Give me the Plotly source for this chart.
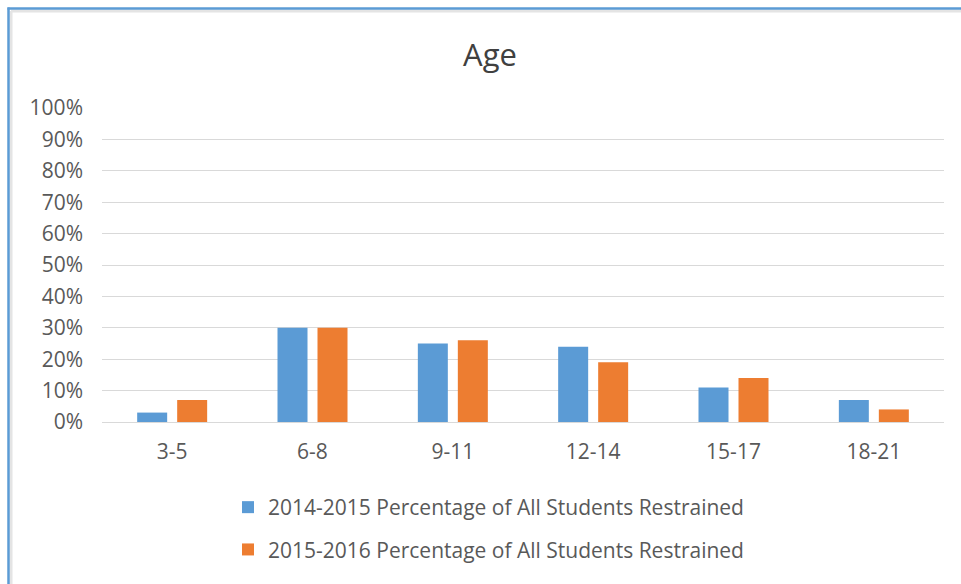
import plotly.graph_objects as go

# Restraint share by age band, two school years
age_groups = ["3-5", "6-8", "9-11", "12-14", "15-17", "18-21"]
pct_2014_2015 = [3, 30, 25, 24, 11, 7]
pct_2015_2016 = [7, 30, 26, 19, 14, 4]
y_ticks = list(range(0, 101, 10))
y_tick_labels = [f"{v}%" for v in y_ticks]

BLUE = "#5B9BD5"
ORANGE = "#ED7D31"
TEXT = "#595959"
GRID = "#D9D9D9"
FONT = "'Open Sans', Lato, sans-serif"
FS = 21

W, H = 961, 584
ML, MR, MT, MB = 102, 17, 108, 162
pw, ph = W - ML - MR, H - MT - MB

fig = go.Figure()
fig.add_trace(go.Bar(
    x=age_groups, y=pct_2014_2015, name="2014-2015 Percentage of All Students Restrained",
    marker=dict(color=BLUE, line=dict(width=0)), legendgroup="a",
))
fig.add_trace(go.Bar(
    x=age_groups, y=pct_2015_2016, name="2015-2016 Percentage of All Students Restrained",
    marker=dict(color=ORANGE, line=dict(width=0)), legendgroup="b",
))

# frame lines (left and top) with a faint inner shadow
def px_x(p):
    return (p - ML) / pw

def px_y(p):
    return (H - MB - p) / ph

shapes = [
    dict(type="line", xref="paper", yref="paper", x0=px_x(11), x1=px_x(11), y0=px_y(H + 2), y1=px_y(11),
         line=dict(color="#E4E4E4", width=3)),
    dict(type="line", xref="paper", yref="paper", x0=px_x(11), x1=px_x(W + 2), y0=px_y(11), y1=px_y(11),
         line=dict(color="#E4E4E4", width=3)),
    dict(type="line", xref="paper", yref="paper", x0=px_x(8.5), x1=px_x(8.5), y0=px_y(H + 2), y1=px_y(7.5),
         line=dict(color=BLUE, width=2.5)),
    dict(type="line", xref="paper", yref="paper", x0=px_x(7.5), x1=px_x(W + 2), y0=px_y(8.5), y1=px_y(8.5),
         line=dict(color=BLUE, width=2.5)),
]

fig.update_layout(
    width=W, height=H,
    margin=dict(l=ML, r=MR, t=MT, b=MB),
    paper_bgcolor="white", plot_bgcolor="white",
    font=dict(family=FONT, color=TEXT, size=FS),
    title=dict(text="Age", x=490 / W, xanchor="center", y=1 - 55 / H, yanchor="middle",
               font=dict(size=31, color="#404040", family=FONT)),
    barmode="group", bargap=0.43, bargroupgap=0.25,
    showlegend=True,
    legend=dict(orientation="v", x=px_x(228), xanchor="left", y=px_y(487), yanchor="top",
                font=dict(size=FS, color=TEXT), tracegroupgap=12, bgcolor="rgba(0,0,0,0)"),
    shapes=shapes,
)
fig.update_xaxes(showgrid=False, showline=False, ticks="", tickfont=dict(size=FS, color=TEXT),
                 ticklabelstandoff=15)
fig.update_yaxes(range=[0, 100], tickvals=y_ticks, ticktext=y_tick_labels, showgrid=True, gridcolor=GRID,
                 gridwidth=1, zeroline=True, zerolinecolor=GRID, zerolinewidth=1, showline=False,
                 ticks="", tickfont=dict(size=FS, color=TEXT), ticklabelstandoff=18)

fig.write_html("out.html")
